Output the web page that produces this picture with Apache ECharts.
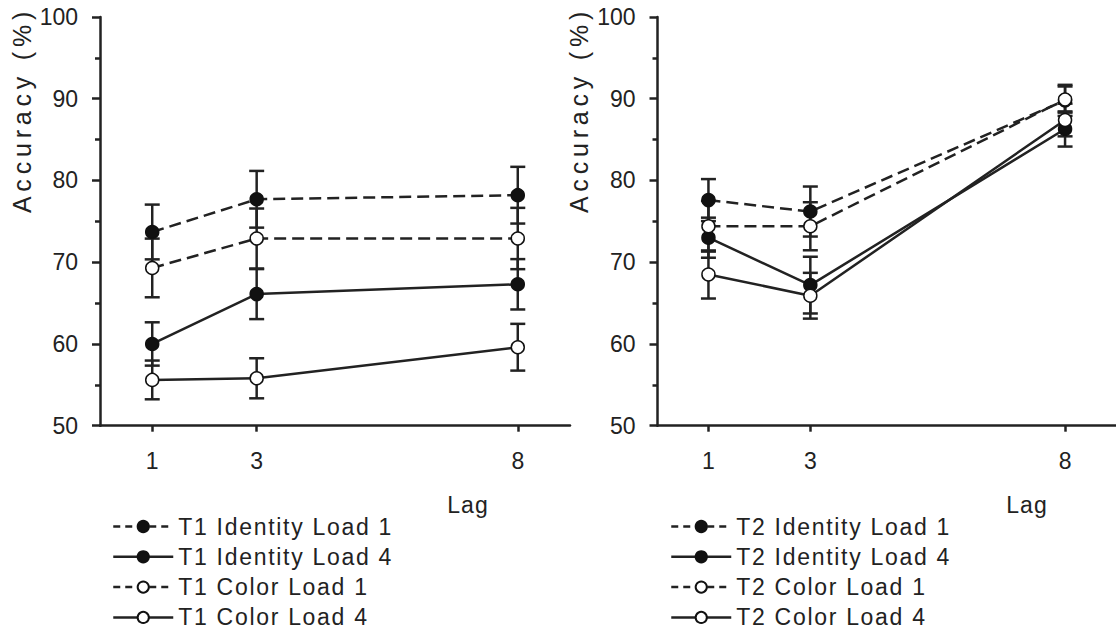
<!DOCTYPE html>
<html><head><meta charset="utf-8">
<script src="https://cdn.jsdelivr.net/npm/echarts@6/dist/echarts.min.js"></script>
<style>html,body{margin:0;padding:0;background:#fff}#main{width:1116px;height:634px}</style>
</head><body><div id="main"></div>
<script>
// ---------- data ----------
const lags = [1, 3, 8];
const xTickValues = [1, 3, 8];
const yMin = 50, yMax = 100, yStep = 10;
const xMin = 0, xMax = 9;
const yTitle = 'Accuracy (%)';
const xTitle = 'Lag';

const t1Names = ['T1 Identity Load 1', 'T1 Identity Load 4', 'T1 Color Load 1', 'T1 Color Load 4'];
const t1IdentityLoad1 = [73.7, 77.7, 78.2];
const t1IdentityLoad1Err = [3.35, 3.47, 3.47];
const t1IdentityLoad4 = [60.0, 66.1, 67.3];
const t1IdentityLoad4Err = [2.65, 3.06, 3.08];
const t1ColorLoad1 = [69.3, 72.9, 72.9];
const t1ColorLoad1Err = [3.59, 3.67, 3.75];
const t1ColorLoad4 = [55.6, 55.8, 59.6];
const t1ColorLoad4Err = [2.37, 2.45, 2.86];

const t2Names = ['T2 Identity Load 1', 'T2 Identity Load 4', 'T2 Color Load 1', 'T2 Color Load 4'];
const t2IdentityLoad1 = [77.6, 76.2, 89.8];
const t2IdentityLoad1Err = [2.57, 3.06, 1.9];
const t2IdentityLoad4 = [73.0, 67.2, 86.3];
const t2IdentityLoad4Err = [2.45, 3.47, 2.15];
const t2ColorLoad1 = [74.4, 74.4, 89.9];
const t2ColorLoad1Err = [3.1, 2.94, 1.6];
const t2ColorLoad4 = [68.5, 65.9, 87.4];
const t2ColorLoad4Err = [2.94, 2.8, 2.0];

// ---------- styling ----------
const FONT = 'Liberation Sans, Arial, Helvetica, sans-serif';
const INK = '#222';
const LW = 2.5;
const DASH = [12, 6];

const panels = [
  { names: t1Names, vals: [t1IdentityLoad1, t1IdentityLoad4, t1ColorLoad1, t1ColorLoad4],
    errs: [t1IdentityLoad1Err, t1IdentityLoad4Err, t1ColorLoad1Err, t1ColorLoad4Err],
    grid: { left: 100, top: 17, width: 470, height: 408.7 }, legendLeft: 112,
    yTitlePos: [22, 110], xTitlePos: [468, 505] },
  { names: t2Names, vals: [t2IdentityLoad1, t2IdentityLoad4, t2ColorLoad1, t2ColorLoad4],
    errs: [t2IdentityLoad1Err, t2IdentityLoad4Err, t2ColorLoad1Err, t2ColorLoad4Err],
    grid: { left: 657.5, top: 17, width: 470, height: 408.7 }, legendLeft: 670,
    yTitlePos: [579, 110], xTitlePos: [1027, 505] }
];
const filled = [true, true, false, false];
const dashed = [true, false, true, false];

function renderErr(params, api) {
  const x = api.value(0), y = api.value(1), e = api.value(2);
  const top = api.coord([x, y + e]);
  const bot = api.coord([x, y - e]);
  const hw = 7.5;
  const st = { stroke: INK, lineWidth: LW };
  return { type: 'group', children: [
    { type: 'line', shape: { x1: top[0], y1: top[1], x2: bot[0], y2: bot[1] }, style: st },
    { type: 'line', shape: { x1: top[0] - hw, y1: top[1], x2: top[0] + hw, y2: top[1] }, style: st },
    { type: 'line', shape: { x1: bot[0] - hw, y1: bot[1], x2: bot[0] + hw, y2: bot[1] }, style: st }
  ]};
}

const grids = [], xAxes = [], yAxes = [], series = [], legends = [], graphics = [];
panels.forEach((p, gi) => {
  grids.push(p.grid);
  xAxes.push({
    type: 'value', gridIndex: gi, min: xMin, max: xMax,
    axisLine: { onZero: false, lineStyle: { color: INK, width: LW } },
    axisTick: { show: true, customValues: xTickValues, length: 6, lineStyle: { color: INK, width: 2.5 } },
    axisLabel: { customValues: xTickValues, margin: 24, fontSize: 23, color: INK, fontFamily: FONT },
    splitLine: { show: false }
  });
  yAxes.push({
    type: 'value', gridIndex: gi, min: yMin, max: yMax, interval: yStep,
    axisLine: { show: true, onZero: false, lineStyle: { color: INK, width: LW } },
    axisTick: { show: true, length: 8, lineStyle: { color: INK, width: 2.5 } },
    minorTick: { show: true, splitNumber: 2, length: 5, lineStyle: { color: INK, width: 2.5 } },
    axisLabel: { margin: 22, fontSize: 23, color: INK, fontFamily: FONT },
    splitLine: { show: false }, minorSplitLine: { show: false }
  });
  p.names.forEach((name, si) => {
    series.push({
      type: 'custom', name: name + ' err', xAxisIndex: gi, yAxisIndex: gi, z: 1,
      renderItem: renderErr, silent: true,
      data: lags.map((l, k) => [l, p.vals[si][k], p.errs[si][k]])
    });
  });
  p.names.forEach((name, si) => {
    series.push({
      type: 'line', name: name, xAxisIndex: gi, yAxisIndex: gi, z: 3,
      data: lags.map((l, k) => [l, p.vals[si][k]]),
      symbol: 'circle', symbolSize: 13,
      lineStyle: { color: INK, width: LW, type: dashed[si] ? DASH : 'solid' },
      itemStyle: { color: filled[si] ? '#111' : '#fff', borderColor: '#111', borderWidth: 1.5 },
      emphasis: { disabled: true }, silent: true
    });
  });
  legends.push({
    orient: 'vertical', left: p.legendLeft, top: 515, height: 119, padding: 0,
    itemWidth: 60, itemHeight: 14, itemGap: 7.3,
    selectedMode: false,
    textStyle: { fontSize: 23, lineHeight: 23, color: INK, fontFamily: FONT },
    data: p.names.map((n, si) => ({ name: n, lineStyle: { type: dashed[si] ? [7, 5] : 'solid', width: 2.5, color: INK } }))
  });
  graphics.push({
    type: 'text', x: p.yTitlePos[0], y: p.yTitlePos[1], rotation: Math.PI / 2,
    style: { text: yTitle, font: '25px ' + FONT, fill: INK, textAlign: 'center', textVerticalAlign: 'middle' }
  });
  graphics.push({
    type: 'text', x: p.xTitlePos[0], y: p.xTitlePos[1],
    style: { text: xTitle, font: '23px ' + FONT, fill: INK, textAlign: 'center', textVerticalAlign: 'middle' }
  });
});

const chart = echarts.init(document.getElementById('main'), null, { renderer: 'svg' });
chart.setOption({
  animation: false,
  backgroundColor: '#fff',
  grid: grids, xAxis: xAxes, yAxis: yAxes, series: series, legend: legends, graphic: graphics
});

function applySpacing() {
  document.querySelectorAll('#main svg text').forEach(t => {
    const s = t.textContent;
    let ls = 0;
    if (s === yTitle) ls = 4.8;
    else if (/^T[12] /.test(s)) ls = 1.7;
    else if (s === xTitle) ls = 1;
    if (ls) t.style.letterSpacing = ls + 'px';
  });
}
applySpacing();
chart.on('finished', applySpacing);
</script>
</body></html>
